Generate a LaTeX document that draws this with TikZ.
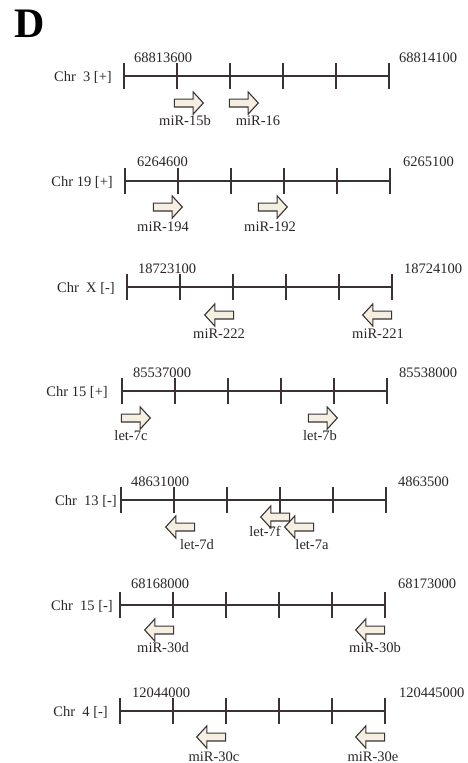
\documentclass[tikz,border=0pt]{standalone}
\usepackage{fontspec}
\setmainfont{Liberation Serif}
\usetikzlibrary{shapes.arrows}
\definecolor{ink}{HTML}{3A3232}
\definecolor{txt}{HTML}{2A2626}
\definecolor{arrfill}{HTML}{F4EFE1}
\tikzset{
  axisline/.style={draw=ink, line width=1.3pt},
  tickmark/.style={draw=ink, line width=2pt},
  lbl/.style={inner sep=0pt, text=txt, font=\fontsize{14.5}{16}\selectfont},
  chrlab/.style={lbl, anchor=base east},
  poslab/.style={lbl, anchor=base west},
  mirlab/.style={lbl, anchor=base},
  fwdarrow/.style={single arrow, draw=ink, fill=arrfill, line width=1.1pt,
    minimum height=29pt, minimum width=10pt, inner xsep=0pt, inner ysep=3.4pt,
    single arrow tip angle=95},
  revarrow/.style={fwdarrow, shape border rotate=180},
}
\newcommand\chraxis[3]{% name, x0, y
  \draw[axisline] (#2,#3) coordinate (#1s) -- ({#2+5*53},#3) coordinate (#1e);
  \foreach \i in {0,...,5}
    \draw[tickmark] ({#2+\i*53},{#3-13}) coordinate (#1t\i) -- ({#2+\i*53},{#3+13});
}
\begin{document}
\begin{tikzpicture}[x=1pt,y=-1pt]
\useasboundingbox[fill=white] (0,0) rectangle (467,763);
\node[anchor=center, inner sep=0pt, text=black, font=\fontsize{42}{44}\selectfont\bfseries] (D) at (30,24) {D};

% Panel 1
\chraxis{a}{124}{76}
\node[chrlab] (a-chr) at (112,81) {Chr\ \ 3 [+]};
\node[poslab] (a-l) at (134,62) {68813600};
\node[poslab] (a-r) at (399,62) {68814100};
\node[fwdarrow] (a-m1) at (187,103) {};
\node[fwdarrow] (a-m2) at (242,103) {};
\node[mirlab] (a-n1) at (185,125) {miR-15b};
\node[mirlab] (a-n2) at (258,125) {miR-16};

% Panel 2
\chraxis{b}{125}{181}
\node[chrlab] (b-chr) at (113,186) {Chr 19 [+]};
\node[poslab] (b-l) at (137,166) {6264600};
\node[poslab] (b-r) at (403,166) {6265100};
\node[fwdarrow] (b-m1) at (166,207) {};
\node[fwdarrow] (b-m2) at (271,207) {};
\node[mirlab] (b-n1) at (163,231) {miR-194};
\node[mirlab] (b-n2) at (270,231) {miR-192};

% Panel 3
\chraxis{c}{127}{287}
\node[chrlab] (c-chr) at (115,292) {Chr\ \ X [-]};
\node[poslab] (c-l) at (138,273) {18723100};
\node[poslab] (c-r) at (404,273) {18724100};
\node[revarrow] (c-m1) at (221,315) {};
\node[revarrow] (c-m2) at (379,315) {};
\node[mirlab] (c-n1) at (219,338) {miR-222};
\node[mirlab] (c-n2) at (378,338) {miR-221};

% Panel 4
\chraxis{d}{122}{391}
\node[chrlab] (d-chr) at (108,396) {Chr 15 [+]};
\node[poslab] (d-l) at (133,377) {85537000};
\node[poslab] (d-r) at (399,377) {85538000};
\node[fwdarrow] (d-m1) at (134,418) {};
\node[fwdarrow] (d-m2) at (321,418) {};
\node[mirlab] (d-n1) at (131,440) {let-7c};
\node[mirlab] (d-n2) at (320,440) {let-7b};

% Panel 5
\chraxis{e}{121}{500}
\node[chrlab] (e-chr) at (117,505) {Chr\ \ 13 [-]};
\node[poslab] (e-l) at (131,486) {48631000};
\node[poslab] (e-r) at (398,486) {4863500};
\node[revarrow] (e-m1) at (182,527) {};
\node[revarrow] (e-m2) at (277,517) {};
\node[revarrow] (e-m3) at (301,527) {};
\node[mirlab] (e-n1) at (197,549) {let-7d};
\node[mirlab] (e-n2) at (265,536) {let-7f};
\node[mirlab] (e-n3) at (312,549) {let-7a};

% Panel 6
\chraxis{f}{120}{605}
\node[chrlab] (f-chr) at (113,610) {Chr\ \ 15 [-]};
\node[poslab] (f-l) at (131,588) {68168000};
\node[poslab] (f-r) at (398,588) {68173000};
\node[revarrow] (f-m1) at (161,630) {};
\node[revarrow] (f-m2) at (372,630) {};
\node[mirlab] (f-n1) at (163,652) {miR-30d};
\node[mirlab] (f-n2) at (375,652) {miR-30b};

% Panel 7
\chraxis{g}{120}{711}
\node[chrlab] (g-chr) at (108,716) {Chr\ \ 4 [-]};
\node[poslab] (g-l) at (132,697) {12044000};
\node[poslab] (g-r) at (399,697) {120445000};
\node[revarrow] (g-m1) at (213,737) {};
\node[revarrow] (g-m2) at (372,737) {};
\node[mirlab] (g-n1) at (214,761) {miR-30c};
\node[mirlab] (g-n2) at (373,761) {miR-30e};
\end{tikzpicture}
\end{document}
